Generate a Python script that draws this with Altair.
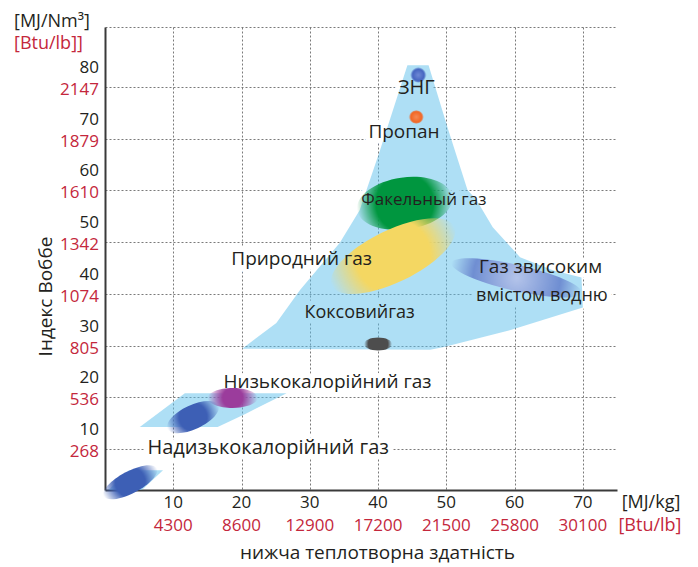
import altair as alt
import pandas as pd

FONT = "Open Sans"
BLACK = "#231f20"
RED = "#c4273c"
W, H = 512, 463

# ---- axis ticks -------------------------------------------------------
x_ticks = [10, 20, 30, 40, 50, 60, 70]
x_btu = ["4300", "8600", "12900", "17200", "21500", "25800", "30100"]
y_ticks = [10, 20, 30, 40, 50, 60, 70, 80]
y_btu = ["268", "536", "805", "1074", "1342", "1610", "1879", "2147"]

# ---- interchangeability regions (polygons) -----------------------------
main_x = [44.3, 47.4, 50.2, 53.1, 54.4, 56.8, 60.8, 65.6, 69.8, 70.0, 59.3, 49.5, 47.6,
          20.1, 25.1, 28.6, 34.4, 37.3, 40.3]
main_y = [84.2, 84.2, 72.1, 60.1, 58.2, 52.9, 47.1, 44.6, 43.2, 37.4, 33.0, 29.7, 29.2,
          29.4, 34.4, 40.8, 49.9, 56.2, 67.8]
band_x = [5.1, 11.7, 26.6, 20.7, 16.5]
band_y = [14.3, 20.8, 20.8, 16.9, 14.3]
low_x = [3.5, 8.5, 5.4, 0.5]
low_y = [5.9, 5.9, 2.1, 2.1]

# ---- gas blobs ---------------------------------------------------------
blob_names = ["ЗНГ", "Пропан", "Факельний газ", "Природний газ", "Газ з воднем",
              "Коксовий газ", "Низькокалорійний газ", "Надизьк. 1", "Надизьк. 2"]
blob_x = [45.9, 45.6, 43.9, 42.2, 60.3, 40.0, 18.7, 12.9, 3.7]
blob_y = [82.3, 74.2, 57.5, 47.3, 43.1, 30.3, 19.9, 16.2, 3.6]
blob_color = ["#4464c0", "#f26522", "#00963f", "#f4d762", "#6f8ed2",
              "#4d4d4d", "#9b3c9c", "#3d5fb5", "#3d5fb5"]
blob_inner = ["#6f8ad6", "#f58a55", "#00963f", "#f4d762", "#b4c4ea",
              "#4d4d4d", "#9b3c9c", "#3d5fb5", "#3d5fb5"]
blob_w = [16, 15, 96, 136, 134, 28, 50, 56, 60]
blob_h = [15, 13, 52, 52, 26, 13, 20, 24, 22]
blob_angle = [0, 0, 352, 334, 13, 0, 0, 335, 332]
blob_core = [0.75, 0.75, 0.6, 0.55, 0.65, 0.7, 0.4, 0.5, 0.5]

# ---- annotations -------------------------------------------------------
label_text = ["ЗНГ", "Пропан", "Факельный газ", "Природний газ", "Газ звисоким",
              "вмістом водню", "Коксовийгаз", "Низькокалорійний газ", "Надизькокалорійний газ"]
label_x = [45.6, 43.8, 46.7, 28.8, 63.8, 64.0, 37.3, 32.6, 23.9]
label_y = [79.8, 71.3, 58.1, 46.8, 45.2, 39.6, 36.3, 23.0, 10.2]
label_size = [20, 19, 17, 19, 19, 18, 18, 19, 20]

xs = alt.Scale(domain=[0, 75], nice=False, zero=False)
ys = alt.Scale(domain=[2.1, 91.6], nice=False, zero=False)

xaxis = alt.Axis(values=x_ticks, grid=True, gridDash=[2, 2], gridColor="#7a7a7a", gridWidth=1,
                 labels=False, ticks=False, domainColor="#3a3a3a", domainWidth=2,
                 title="нижча теплотворна здатність", titleFont=FONT, titleFontSize=19,
                 titleFontWeight="normal", titleColor=BLACK, titleX=272, titleY=62,
                 titleAlign="center", titleBaseline="middle")
yaxis = alt.Axis(values=y_ticks + [91.6], grid=True, gridDash=[2, 2], gridColor="#7a7a7a",
                 gridWidth=1, labels=False, ticks=False, domainColor="#3a3a3a", domainWidth=2,
                 title="Індекс Воббе", titleFont=FONT, titleFontSize=19, titleFontWeight="normal",
                 titleColor=BLACK, titleX=-60, titleY=269, titleAngle=270,
                 titleAlign="center", titleBaseline="middle")


def X(f):
    return alt.X(f, type="quantitative", scale=xs, axis=xaxis)


def Y(f):
    return alt.Y(f, type="quantitative", scale=ys, axis=yaxis)


def rgba0(h):
    h = h.lstrip("#")
    r, g, b = int(h[0:2], 16), int(h[2:4], 16), int(h[4:6], 16)
    return f"rgba({r},{g},{b},0)"


poly_rows = []
for name, xx, yy in [("main", main_x, main_y), ("band", band_x, band_y), ("low", low_x, low_y)]:
    for i, (a, b) in enumerate(zip(xx, yy)):
        poly_rows.append({"shape": name, "i": i, "x": a, "y": b})
poly_df = pd.DataFrame(poly_rows)

lab_df = pd.DataFrame({"t": label_text, "x": label_x, "y": label_y, "fs": label_size})

halo = alt.Chart(lab_df).mark_text(font=FONT, fill="white", stroke="white", strokeWidth=10,
                                   strokeJoin="round", align="center", baseline="middle").encode(
    x=X("x"), y=Y("y"), text="t:N", size=alt.Size("fs:Q", scale=None, legend=None))

poly = alt.Chart(poly_df).mark_line(fill="#5ec0ec", fillOpacity=0.5, strokeWidth=0,
                                    interpolate="linear").encode(
    x=X("x"), y=Y("y"), detail="shape:N", order="i:Q")

blobs = []
for n, bx, by, c, ci, bw, bh, ang, core in zip(blob_names, blob_x, blob_y, blob_color, blob_inner,
                                               blob_w, blob_h, blob_angle, blob_core):
    r = bh / bw
    path = f"M-1,0A1,{r:.4f},0,1,0,1,0A1,{r:.4f},0,1,0,-1,0Z"
    grad = alt.RadialGradient(
        gradient="radial",
        stops=[alt.GradientStop(color=ci, offset=0), alt.GradientStop(color=c, offset=core),
               alt.GradientStop(color=rgba0(c), offset=1)],
        x1=0.5, y1=0.5, r1=0, x2=0.5, y2=0.5, r2=0.5)
    d = pd.DataFrame({"name": [n], "x": [bx], "y": [by]})
    blobs.append(alt.Chart(d).mark_point(shape=path, size=bw * bw, angle=ang, filled=True,
                                         fill=grad, opacity=1, strokeWidth=0).encode(
        x=X("x"), y=Y("y")))

labels = alt.Chart(lab_df).mark_text(font=FONT, color=BLACK, align="center",
                                     baseline="middle").encode(
    x=X("x"), y=Y("y"), text="t:N", size=alt.Size("fs:Q", scale=None, legend=None))

ydf = pd.DataFrame({"v": y_ticks, "lab": [str(v) for v in y_ticks], "btu": y_btu})
xdf = pd.DataFrame({"v": x_ticks, "lab": [str(v) for v in x_ticks], "btu": x_btu})

ylab_k = alt.Chart(ydf).mark_text(font=FONT, fontSize=17, color=BLACK, align="right",
                                  baseline="middle", dy=-19).encode(
    x=alt.value(-6), y=Y("v"), text="lab:N")
ylab_r = alt.Chart(ydf).mark_text(font=FONT, fontSize=17, color=RED, align="right",
                                  baseline="middle", dy=3).encode(
    x=alt.value(-6), y=Y("v"), text="btu:N")
xlab_k = alt.Chart(xdf).mark_text(font=FONT, fontSize=17, color=BLACK, align="center",
                                  baseline="middle").encode(
    x=X("v"), y=alt.value(H + 13), text="lab:N")
xlab_r = alt.Chart(xdf).mark_text(font=FONT, fontSize=17, color=RED, align="center",
                                  baseline="middle").encode(
    x=X("v"), y=alt.value(H + 36), text="btu:N")


def unit(t, col, px, py, al):
    return alt.Chart(pd.DataFrame({"t": [t]})).mark_text(
        font=FONT, fontSize=18, color=col, align=al, baseline="middle").encode(
        x=alt.value(px), y=alt.value(py), text="t:N")


units = [unit("[MJ/Nm³]", BLACK, -91, -5, "left"),
         unit("[Btu/lb]]", RED, -91, 17, "left"),
         unit("[MJ/kg]", BLACK, 546, H + 13, "center"),
         unit("[Btu/lb]", RED, 545, H + 36, "center")]

chart = alt.layer(halo, poly, *blobs, labels, ylab_k, ylab_r, xlab_k, xlab_r, *units).properties(
    width=W, height=H,
    padding={"left": 97, "top": 19, "right": 73, "bottom": 77},
    autosize=alt.AutoSizeParams(type="none"),
).configure_view(stroke="transparent")

chart.save("out.html", embed_options={"renderer": "svg", "actions": False})
